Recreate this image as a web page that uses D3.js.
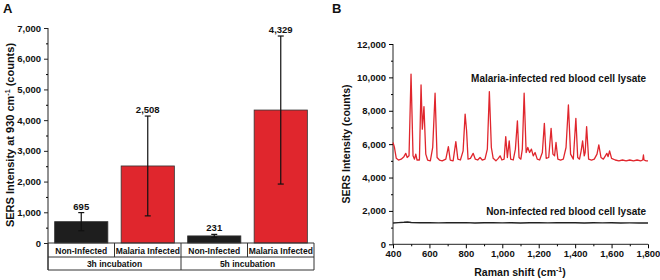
<!DOCTYPE html>
<meta charset="utf-8">
<script src="https://d3js.org/d3.v7.min.js"></script>
<style>
	body{margin:0;background:#fff;}
	svg text{font-family:"Liberation Sans",Arial,sans-serif;font-weight:bold;fill:#111;}
</style>
<div id="chart"></div>
<script>
// panel A - bars
var groups = ["Non-Infected","Malaria Infected","Non-Infected","Malaria Infected"]
var incubations = ["3h incubation","5h incubation"]
var means = [695,2508,231,4329]
var errors = [295,1625,50,2410]
var valueLabels = ["695","2,508","231","4,329"]
var barColors = ["#1e1e1e","#e0262d","#1e1e1e","#e0262d"]
var yTicksA = [0,1000,2000,3000,4000,5000,6000,7000]

// panel B - spectra (raman shift, counts)
var infected = [[400,6100],[408,5800],[418,5150],[430,5050],[445,5100],[460,5250],[470,5450],[478,5200],[488,5300],[499,10200],[510,5300],[518,5100],[525,5400],[532,5050],[545,5050],[554,9550],[561,6900],[570,8250],[580,5400],[590,5050],[605,5000],[618,5800],[631,9050],[642,5200],[655,5050],[670,5000],[690,5100],[704,5850],[714,5050],[730,5000],[745,6150],[756,5100],[770,5050],[785,5600],[796,7800],[804,6800],[812,5100],[825,5150],[840,5450],[852,5100],[865,5050],[878,5200],[890,5050],[905,5100],[918,5700],[929,9150],[940,5800],[950,5150],[965,5000],[978,5150],[988,5300],[998,5050],[1010,5100],[1019,6450],[1028,5200],[1038,6200],[1046,5100],[1060,5050],[1072,5700],[1083,7400],[1092,5200],[1102,5100],[1110,5700],[1120,9050],[1131,5500],[1140,5800],[1150,5500],[1160,5700],[1170,5300],[1180,5500],[1192,5100],[1205,5050],[1220,5500],[1231,7250],[1241,5150],[1255,5200],[1268,6950],[1278,5400],[1287,5300],[1295,6100],[1305,5100],[1320,5050],[1335,5100],[1350,5800],[1363,8350],[1375,5400],[1390,5100],[1404,7550],[1414,5200],[1424,5100],[1433,5600],[1441,6200],[1450,5300],[1455,5500],[1463,7050],[1474,5100],[1490,5050],[1505,5100],[1520,5400],[1530,5950],[1542,5200],[1555,5100],[1566,5300],[1574,5450],[1581,5250],[1589,5600],[1600,5150],[1620,5050],[1640,5000],[1660,5050],[1680,5000],[1700,5050],[1720,5000],[1740,5050],[1760,5000],[1771,5050],[1775,5350],[1778,5050],[1790,5000],[1800,5000]]
var nonInfected = [[400,1280],[430,1300],[460,1320],[480,1340],[500,1310],[550,1290],[600,1300],[650,1285],[700,1300],[750,1290],[800,1300],[850,1280],[900,1290],[950,1300],[1000,1285],[1050,1295],[1100,1280],[1150,1290],[1200,1300],[1250,1285],[1300,1290],[1350,1300],[1400,1290],[1450,1280],[1500,1290],[1550,1285],[1600,1290],[1650,1280],[1700,1285],[1750,1280],[1800,1275]]
var xTicksB = [400,600,800,1000,1200,1400,1600,1800]
var yTicksB = [0,2000,4000,6000,8000,10000,12000]

var w = 660, h = 280
var svg = d3.select("#chart").append("svg").attr("width",w).attr("height",h)
var fmt = d3.format(",")

// ---------- A ----------
svg.append("text").text("A").attr("x",3).attr("y",13).style("font-size","13px")

var yA = d3.scaleLinear().domain([0,7000]).range([243,28])
var xA = d3.scaleBand().domain(d3.range(4)).range([48,314]).paddingInner(0.2).paddingOuter(0.1)

var gA = svg.append("g")
gA.selectAll(".bar").data(means).join("rect")
	.attr("x",function(d,i){return xA(i)})
	.attr("y",function(d){return yA(d)})
	.attr("width",xA.bandwidth())
	.attr("height",function(d){return yA(0)-yA(d)})
	.attr("fill",function(d,i){return barColors[i]})
	.attr("stroke","#333").attr("stroke-width",0.8)

// error bars
var eb = gA.selectAll(".err").data(means).join("g")
eb.append("line")
	.attr("x1",function(d,i){return xA(i)+xA.bandwidth()/2})
	.attr("x2",function(d,i){return xA(i)+xA.bandwidth()/2})
	.attr("y1",function(d,i){return yA(d+errors[i])})
	.attr("y2",function(d,i){return yA(d-errors[i])})
	.attr("stroke","#111").attr("stroke-width",1.2)
eb.each(function(d,i){
	var cx = xA(i)+xA.bandwidth()/2
	var g = d3.select(this)
	;[d+errors[i],d-errors[i]].forEach(function(v){
		g.append("line").attr("x1",cx-3).attr("x2",cx+3).attr("y1",yA(v)).attr("y2",yA(v))
			.attr("stroke","#111").attr("stroke-width",1.2)
	})
})
gA.selectAll(".val").data(means).join("text")
	.attr("x",function(d,i){return xA(i)+xA.bandwidth()/2})
	.attr("y",function(d,i){return yA(d+errors[i])-3})
	.attr("text-anchor","middle").style("font-size","9.5px")
	.text(function(d,i){return valueLabels[i]})

// y axis
var axA = svg.append("g").attr("transform","translate(48,0)")
	.call(d3.axisLeft(yA).tickValues(yTicksA).tickFormat(fmt).tickSize(4).tickPadding(3))
axA.select(".domain").attr("stroke","#222").attr("stroke-width",1).attr("d","M0,28V270")
axA.selectAll("text").style("font-size","9.5px")
axA.selectAll(".tick line").attr("stroke","#222")
svg.append("g").attr("transform","translate(48,0)")
	.call(d3.axisLeft(yA).tickValues(d3.range(500,7000,1000)).tickFormat("").tickSize(2))
	.select(".domain").remove()

var yTitleA = svg.append("text").attr("transform","translate(14,135) rotate(-90)")
	.attr("text-anchor","middle").style("font-size","11px")
yTitleA.append("tspan").text("SERS Intensity at 930 cm")
yTitleA.append("tspan").text("-1").attr("dy",-4).style("font-size","7px")
yTitleA.append("tspan").text(" (counts)").attr("dy",4)

// category table
var step = xA.step()
var tbl = svg.append("g").attr("stroke","#333").attr("stroke-width",1)
tbl.append("line").attr("x1",48).attr("x2",314).attr("y1",243).attr("y2",243)
tbl.append("line").attr("x1",48).attr("x2",314).attr("y1",257).attr("y2",257)
tbl.append("line").attr("x1",48).attr("x2",314).attr("y1",270).attr("y2",270)
tbl.selectAll(".vc").data(d3.range(5)).join("line")
	.attr("x1",function(d){return 48+d*step}).attr("x2",function(d){return 48+d*step})
	.attr("y1",243).attr("y2",function(d){return d%2==0?270:257})
svg.selectAll(".grp").data(groups).join("text")
	.attr("x",function(d,i){return xA(i)+xA.bandwidth()/2}).attr("y",253.5)
	.attr("text-anchor","middle").style("font-size","8.5px").text(function(d){return d})
svg.selectAll(".inc").data(incubations).join("text")
	.attr("x",function(d,i){return 48+step*(2*i+1)}).attr("y",267)
	.attr("text-anchor","middle").style("font-size","8.5px").text(function(d){return d})

// ---------- B ----------
svg.append("text").text("B").attr("x",332).attr("y",13).style("font-size","13px")

var xB = d3.scaleLinear().domain([400,1800]).range([393,648])
var yB = d3.scaleLinear().domain([0,12000]).range([244.3,44])

var axBx = svg.append("g").attr("transform","translate(0,244.3)")
	.call(d3.axisBottom(xB).tickValues(xTicksB).tickSize(4).tickPadding(2))
svg.append("g").attr("transform","translate(0,244.3)")
	.call(d3.axisBottom(xB).tickValues(d3.range(500,1800,100).filter(function(v){return v%200})).tickFormat("").tickSize(2))
	.select(".domain").remove()
var axBy = svg.append("g").attr("transform","translate(393,0)")
	.call(d3.axisLeft(yB).tickValues(yTicksB).tickFormat(fmt).tickSize(4).tickPadding(3))
svg.append("g").attr("transform","translate(393,0)")
	.call(d3.axisLeft(yB).tickValues(d3.range(1000,12000,2000)).tickFormat("").tickSize(2))
	.select(".domain").remove()
;[axBx,axBy].forEach(function(a){
	a.select(".domain").attr("stroke","#222")
	a.selectAll("text").style("font-size","9.5px")
})
axBy.select(".domain").attr("d","M0,44V244.3")
axBx.select(".domain").attr("d","M393,0H648")

var line = d3.line().x(function(d){return xB(d[0])}).y(function(d){return yB(d[1])})
svg.append("path").datum(nonInfected).attr("d",line).attr("fill","none")
	.attr("stroke","#222").attr("stroke-width",1.4)
svg.append("path").datum(infected).attr("d",line).attr("fill","none")
	.attr("stroke","#e0262d").attr("stroke-width",1.3).attr("stroke-linejoin","round")

svg.append("text").attr("x",xB(1790)).attr("y",yB(9750)).attr("text-anchor","end")
	.style("font-size","10px").text("Malaria-infected red blood cell lysate")
svg.append("text").attr("x",xB(1790)).attr("y",yB(1780)).attr("text-anchor","end")
	.style("font-size","10px").text("Non-infected red blood cell lysate")

var xTitleB = svg.append("text").attr("x",520).attr("y",276).attr("text-anchor","middle").style("font-size","10.5px")
xTitleB.append("tspan").text("Raman shift (cm")
xTitleB.append("tspan").text("-1").attr("dy",-4).style("font-size","7px")
xTitleB.append("tspan").text(")").attr("dy",4)

svg.append("text").attr("transform","translate(350,144) rotate(-90)")
	.attr("text-anchor","middle").style("font-size","10.5px").text("SERS Intensity (counts)")
</script>
